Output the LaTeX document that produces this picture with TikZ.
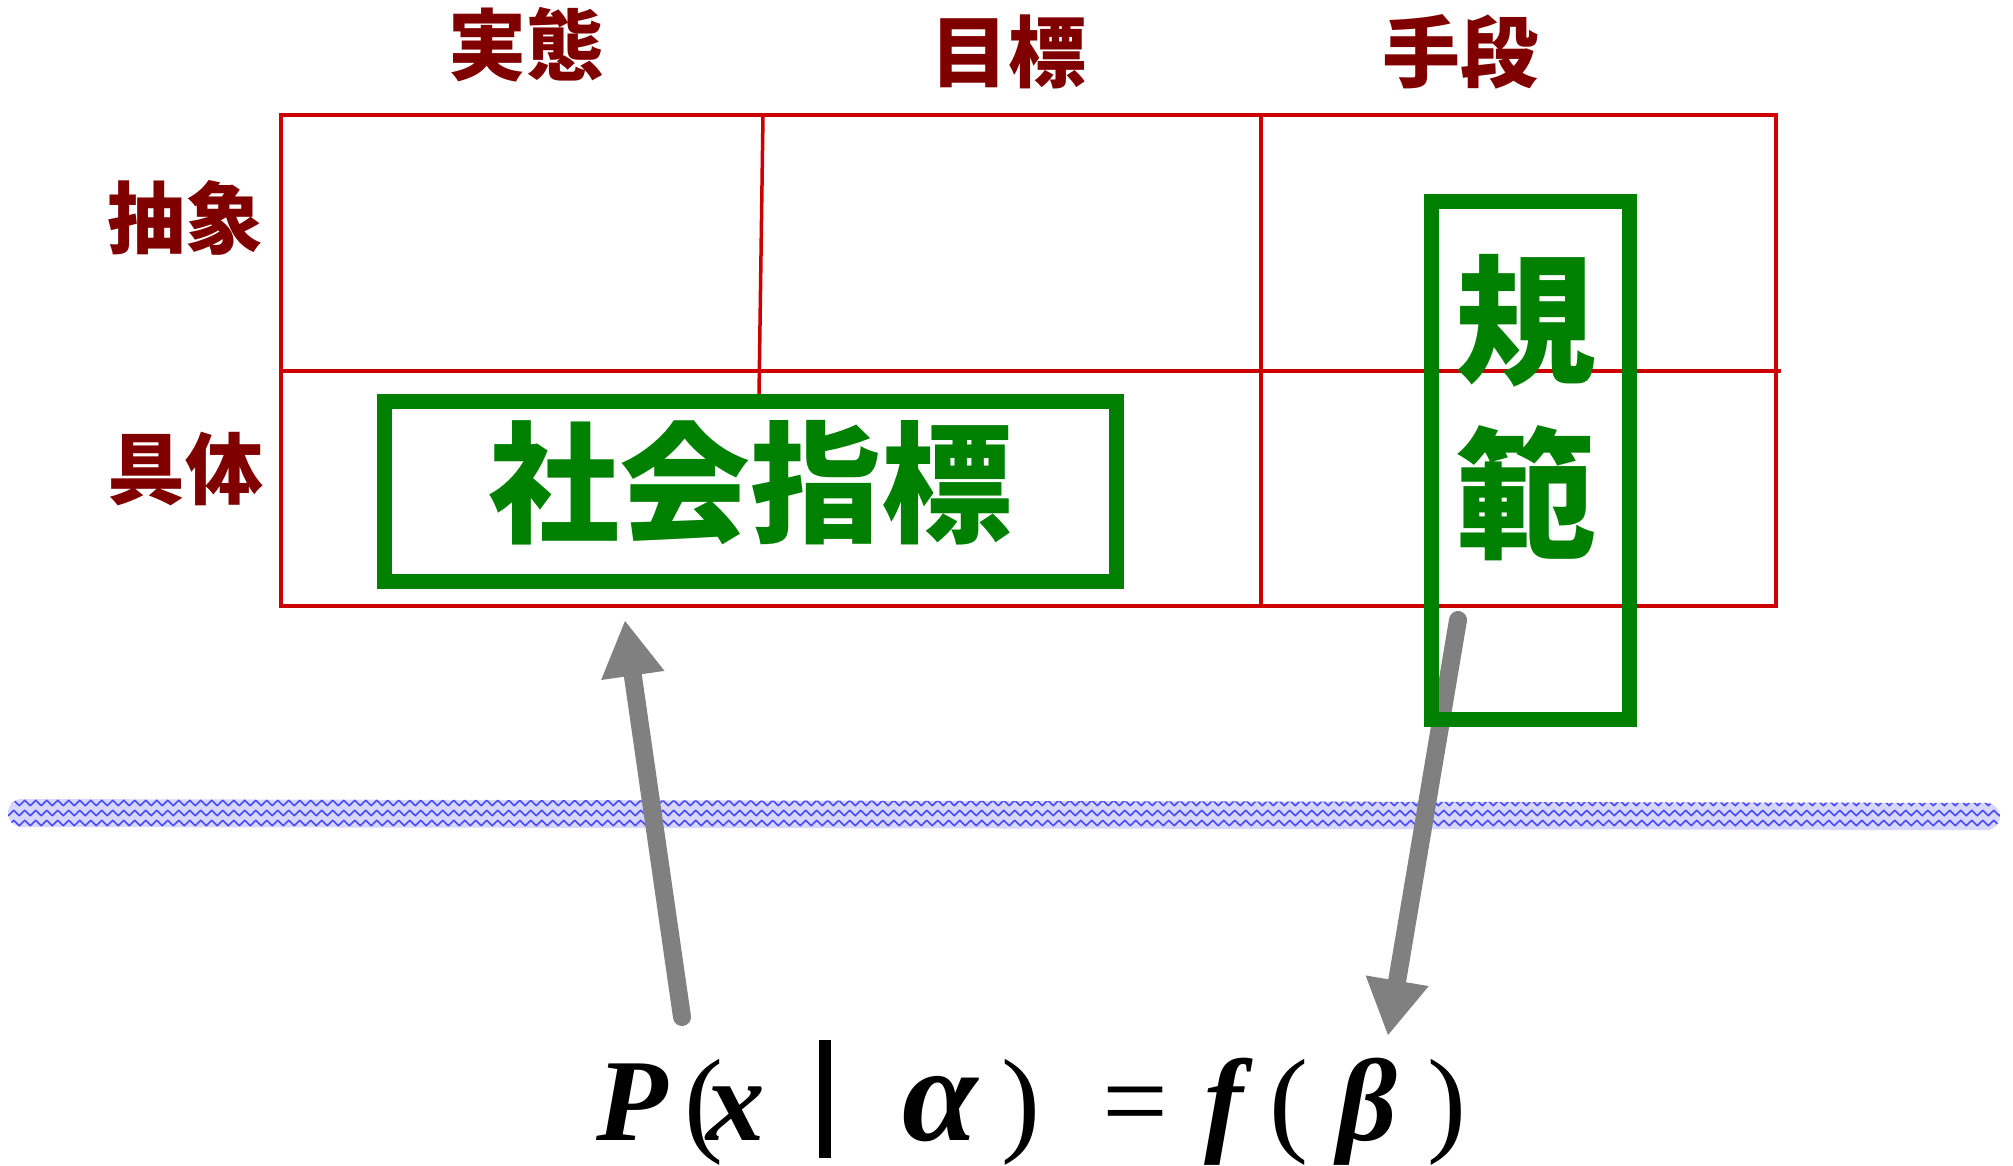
\documentclass[tikz,border=0pt]{standalone}
\usepackage{fontspec}
\usetikzlibrary{arrows.meta,decorations.pathmorphing}
\newfontfamily\jp{Noto Sans CJK JP}
\newfontfamily\tms{Liberation Serif}
\definecolor{darkred}{HTML}{800000}
\definecolor{gridred}{HTML}{CC0000}
\definecolor{boxgreen}{HTML}{008000}
\definecolor{arrgray}{HTML}{808080}
\definecolor{bandfill}{HTML}{D6D6FF}
\definecolor{zigblue}{HTML}{4A4AFF}
\newcommand{\gl}[2]{\rlap{\hspace*{#1pt}#2}}
\begin{document}
\begin{tikzpicture}[x=1pt,y=-1pt,
  hdr/.style={font=\jp\bfseries\fontsize{78}{90}\selectfont, text=darkred, inner sep=0pt},
  gridline/.style={draw=gridred, line width=3.5pt},
  gbox/.style={draw=boxgreen, line width=15pt},
  bigtxt/.style={font=\jp\bfseries\fontsize{131}{160}\selectfont, text=boxgreen, inner sep=0pt},
  arr/.style={draw=arrgray, line width=18pt, line cap=round,
    -{Triangle[length=55pt,width=64pt,line width=0pt]}},
  zig/.style={draw=zigblue, line width=1.6pt, decorate,
    decoration={zigzag, segment length=11pt, amplitude=2.6pt}}
]
\useasboundingbox (0,0) rectangle (2013,1166);

% headers
\node[hdr] (h1) at (526,45) {実態};
\node[hdr] (h2) at (1008,52) {目標};
\node[hdr] (h3) at (1460,52) {手段};
\node[hdr] (r1) at (185,218) {抽象};
\node[hdr] (r2) at (185,469) {具体};

% grid
\draw[gridline] (281,115) rectangle (1776,606);
\draw[gridline] (281,371) -- (1781,371);
\draw[gridline] (763,115) -- (759,395);
\draw[gridline] (1261,115) -- (1261,606);

% band
\path[fill=bandfill, rounded corners=13.5pt] (8,799) -- (2000,803) -- (2000,830) -- (8,827) -- cycle;
\begin{scope}
  \clip[rounded corners=13.5pt] (8,799) -- (2000,803) -- (2000,830) -- (8,827) -- cycle;
  \foreach \yy in {803,813,823} \draw[zig] (0,\yy) -- (2013,\yy);
\end{scope}

% arrows
\coordinate (a1s) at (682,1017);
\coordinate (a1e) at (625,621);
\coordinate (a2s) at (1458,620);
\coordinate (a2e) at (1388,1035);
\draw[arr] (a1s) -- (a1e);
\draw[arr] (a2s) -- (a2e);

% green boxes
\draw[gbox] (384.5,401.5) rectangle (1116.5,581.5);
\node[bigtxt] (si) at (750,483) {社会指標};
\draw[gbox] (1431.5,201.5) rectangle (1629.5,719);
\node[bigtxt, font=\jp\bfseries\fontsize{141}{174}\selectfont, align=center] (kh) at (1526,408) {規\\範};

% formula
\node[inner sep=0pt, anchor=base west, font=\tms\fontsize{117}{130}\selectfont] (fm) at (0,1140)
 {\gl{596}{\bfseries\itshape P}\gl{684}{(}\gl{706}{\bfseries\itshape x}%
  \gl{818}{\rule[-18pt]{12pt}{118pt}}\gl{902}{\fontsize{136}{140}\selectfont\bfseries\itshape α}\gl{1001}{)}%
  \gl{1102}{=}\gl{1204}{\bfseries\itshape f}\gl{1269}{(}\gl{1337}{\bfseries\itshape β}\gl{1427}{)}};
\end{tikzpicture}
\end{document}
